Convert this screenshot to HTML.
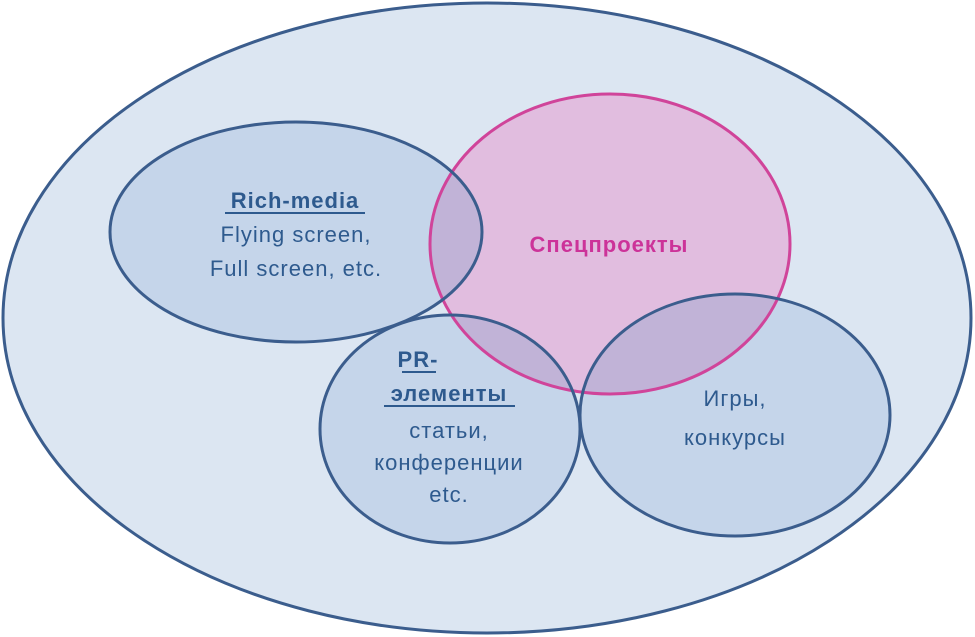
<!DOCTYPE html>
<html><head><meta charset="utf-8"><style>
html,body{margin:0;padding:0;background:#fff;width:975px;height:637px;overflow:hidden}
svg text{font-family:"Liberation Sans","DejaVu Sans",sans-serif;font-size:22px;fill:#2e5a8e;text-anchor:middle;letter-spacing:1px}
</style></head><body>
<svg width="975" height="637" viewBox="0 0 975 637" xmlns="http://www.w3.org/2000/svg">
<defs>
<clipPath id="pk"><ellipse cx="610" cy="244" rx="180" ry="150"/></clipPath>
</defs>
<ellipse cx="487" cy="318" rx="484" ry="315" fill="#dce6f2" stroke="#3b5d8d" stroke-width="3"/>
<ellipse cx="610" cy="244" rx="180" ry="150" fill="#e1bddf"/>
<g fill="#c5d5ea">
<ellipse cx="296" cy="232" rx="186" ry="110"/>
<ellipse cx="450" cy="429" rx="130" ry="114"/>
<ellipse cx="735" cy="415" rx="155" ry="121"/>
</g>
<g fill="#c1b3d7" clip-path="url(#pk)">
<ellipse cx="296" cy="232" rx="186" ry="110"/>
<ellipse cx="450" cy="429" rx="130" ry="114"/>
<ellipse cx="735" cy="415" rx="155" ry="121"/>
</g>
<ellipse cx="610" cy="244" rx="180" ry="150" fill="none" stroke="#d0449a" stroke-width="3"/>
<g fill="none" stroke="#3b5d8d" stroke-width="3">
<ellipse cx="296" cy="232" rx="186" ry="110"/>
<ellipse cx="450" cy="429" rx="130" ry="114"/>
<ellipse cx="735" cy="415" rx="155" ry="121"/>
</g>
<text x="295" y="208" font-weight="bold">Rich-media</text>
<line x1="225" y1="213" x2="365" y2="213" stroke="#2e5a8e" stroke-width="2"/>
<text x="296" y="242">Flying  screen,</text>
<text x="296" y="276">Full screen, etc.</text>
<text x="609" y="252" style="fill:#cc3399" font-weight="bold">Спецпроекты</text>
<text x="418" y="367" font-weight="bold">PR-</text>
<line x1="402" y1="372" x2="436" y2="372" stroke="#2e5a8e" stroke-width="2"/>
<text x="449" y="401" font-weight="bold">элементы</text>
<line x1="384" y1="406" x2="515" y2="406" stroke="#2e5a8e" stroke-width="2"/>
<text x="449" y="438">статьи,</text>
<text x="449" y="470">конференции</text>
<text x="449" y="502">etc.</text>
<text x="735" y="406">Игры,</text>
<text x="735" y="445">конкурсы</text>
</svg>
</body></html>
